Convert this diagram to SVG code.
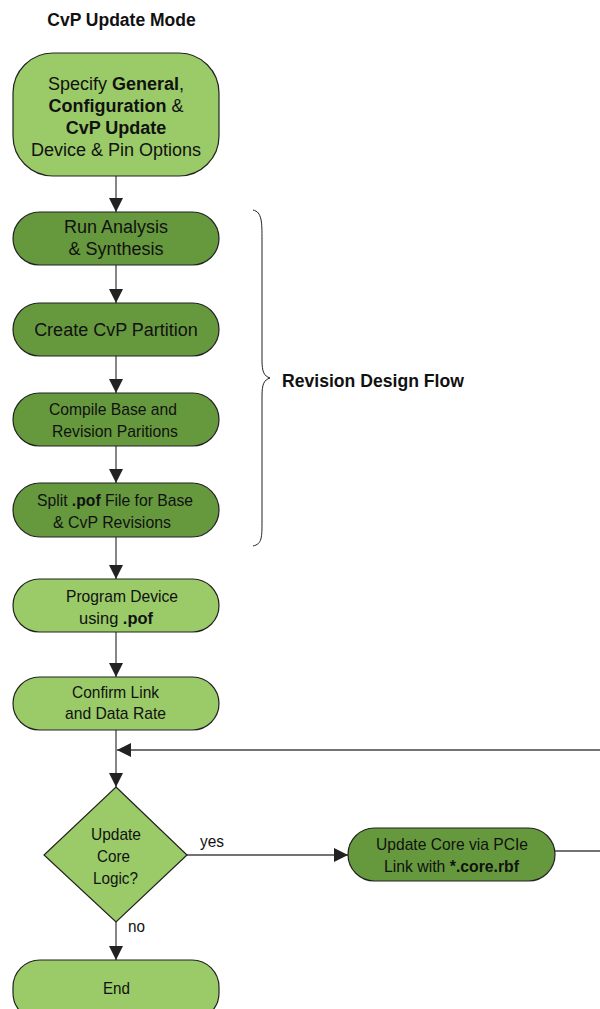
<svg xmlns="http://www.w3.org/2000/svg" width="600" height="1009" viewBox="0 0 600 1009">
  <defs>
    <marker id="arrow" viewBox="0 0 14 14" refX="14" refY="7" markerWidth="14" markerHeight="14" markerUnits="userSpaceOnUse" orient="auto">
      <path d="M0,0 L14,7 L0,14 Z" fill="#222"/>
    </marker>
    <style>
      .light { fill: #9acb68; stroke: #222; stroke-width: 1.2; }
      .dark { fill: #66993d; stroke: #222; stroke-width: 1.2; }
      .conn { fill: none; stroke: #444; stroke-width: 1.3; }
      text { font-family: "Liberation Sans", Arial, sans-serif; fill: #111; }
      .big { font-size: 18px; text-anchor: middle; }
      .narrow { font-size: 17px; text-anchor: middle; }
      .tag { font-size: 17px; text-anchor: start; }
      .b { font-weight: bold; }
    </style>
  </defs>

  <text x="121.5" y="26" class="b" style="font-size:17.5px;text-anchor:middle">CvP Update Mode</text>

  <!-- connectors -->
  <g id="connectors">
    <line class="conn" x1="116" y1="176" x2="116" y2="212" marker-end="url(#arrow)"/>
    <line class="conn" x1="116" y1="265" x2="116" y2="303" marker-end="url(#arrow)"/>
    <line class="conn" x1="116" y1="356" x2="116" y2="393" marker-end="url(#arrow)"/>
    <line class="conn" x1="116" y1="446" x2="116" y2="483" marker-end="url(#arrow)"/>
    <line class="conn" x1="116" y1="537" x2="116" y2="579" marker-end="url(#arrow)"/>
    <line class="conn" x1="116" y1="632" x2="116" y2="677" marker-end="url(#arrow)"/>
    <line class="conn" x1="116" y1="730" x2="116" y2="787" marker-end="url(#arrow)"/>
    <line class="conn" x1="600" y1="750" x2="117" y2="750" marker-end="url(#arrow)"/>
    <line class="conn" x1="187" y1="855" x2="348" y2="855" marker-end="url(#arrow)"/>
    <line class="conn" x1="555" y1="851" x2="600" y2="851"/>
    <line class="conn" x1="116" y1="922" x2="116" y2="960" marker-end="url(#arrow)"/>
    <text class="tag" x="200" y="847" textLength="24" lengthAdjust="spacingAndGlyphs">yes</text>
    <text class="tag" x="128" y="932" textLength="17" lengthAdjust="spacingAndGlyphs">no</text>
  </g>

  <g id="n-specify">
    <rect class="light" x="13" y="53" width="206" height="123" rx="40" ry="40"/>
    <text class="big" x="116" y="90">Specify <tspan class="b">General</tspan>,</text>
    <text class="big" x="116" y="112"><tspan class="b">Configuration</tspan> &amp;</text>
    <text class="big" x="116" y="134"><tspan class="b">CvP Update</tspan></text>
    <text class="big" x="116" y="156">Device &amp; Pin Options</text>
  </g>

  <g id="n-synth">
    <rect class="dark" x="13" y="212" width="206" height="53" rx="26.5"/>
    <text class="big" x="116" y="233">Run Analysis</text>
    <text class="big" x="116" y="255">&amp; Synthesis</text>
  </g>

  <g id="n-partition">
    <rect class="dark" x="13" y="303" width="206" height="53" rx="26.5"/>
    <text class="big" x="116" y="336">Create CvP Partition</text>
  </g>

  <g id="n-compile">
    <rect class="dark" x="13" y="393" width="206" height="53" rx="26.5"/>
    <text class="narrow" x="113" y="415" textLength="128" lengthAdjust="spacingAndGlyphs">Compile Base and</text>
    <text class="narrow" x="115" y="437" textLength="126" lengthAdjust="spacingAndGlyphs">Revision Paritions</text>
  </g>

  <g id="n-split">
    <rect class="dark" x="13" y="483" width="206" height="54" rx="27"/>
    <text class="narrow" x="115" y="506" textLength="156" lengthAdjust="spacingAndGlyphs">Split <tspan class="b">.pof</tspan> File for Base</text>
    <text class="narrow" x="112" y="528" textLength="118" lengthAdjust="spacingAndGlyphs">&amp; CvP Revisions</text>
  </g>

  <g id="n-program">
    <rect class="light" x="13" y="579" width="206" height="53" rx="26.5"/>
    <text class="narrow" x="122" y="602" textLength="112" lengthAdjust="spacingAndGlyphs">Program Device</text>
    <text class="narrow" x="116" y="624" textLength="74" lengthAdjust="spacingAndGlyphs">using  <tspan class="b">.pof</tspan></text>
  </g>

  <g id="n-confirm">
    <rect class="light" x="13" y="677" width="206" height="53" rx="26.5"/>
    <text class="narrow" x="115.5" y="698" textLength="87" lengthAdjust="spacingAndGlyphs">Confirm Link</text>
    <text class="narrow" x="115.5" y="719" textLength="101" lengthAdjust="spacingAndGlyphs">and Data Rate</text>
  </g>

  <g id="n-decision">
    <polygon class="light" points="116,787 187,855 116,922 44,855"/>
    <text class="narrow" x="116" y="840" textLength="50" lengthAdjust="spacingAndGlyphs">Update</text>
    <text class="narrow" x="113.5" y="862" textLength="33" lengthAdjust="spacingAndGlyphs">Core</text>
    <text class="narrow" x="115.5" y="884" textLength="45" lengthAdjust="spacingAndGlyphs">Logic?</text>
  </g>

  <g id="n-update">
    <rect class="dark" x="348" y="828" width="207" height="53" rx="26.5"/>
    <text class="narrow" x="452" y="850" textLength="152" lengthAdjust="spacingAndGlyphs">Update Core via PCIe</text>
    <text class="narrow" x="451.5" y="872" textLength="135" lengthAdjust="spacingAndGlyphs">Link with <tspan class="b">*.core.rbf</tspan></text>
  </g>

  <g id="n-end">
    <rect class="light" x="13" y="960" width="206" height="60" rx="27"/>
    <text class="narrow" x="116.5" y="994" textLength="27" lengthAdjust="spacingAndGlyphs">End</text>
  </g>

  <g id="brace">
    <path d="M253,210 C262,212 262,222 262,240 L262,360 C262,372 264,376 270,378 C264,380 262,384 262,396 L262,520 C262,538 262,544 253,546" fill="none" stroke="#222" stroke-width="1"/>
    <text x="282" y="387" class="b" style="font-size:17.6px">Revision Design Flow</text>
  </g>
</svg>
